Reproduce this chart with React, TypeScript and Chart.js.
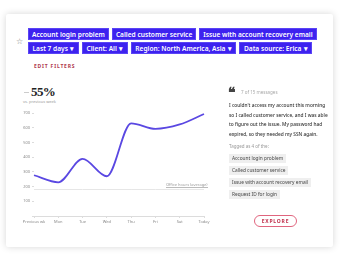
import React, { useEffect, useRef } from "react";
import { Chart, registerables } from "chart.js";

Chart.register(...registerables);

const categories = ["Previous wk", "Mon", "Tue", "Wed", "Thu", "Fri", "Sat", "Today"];
const messageValues = [277, 229, 388, 270, 630, 592, 622, 693];
const averageValues = [180, 180, 180, 180, 180, 180, 180, 180];
const yTicks = [0, 100, 200, 300, 400, 500, 600, 700];

const filterChips = ["Account login problem", "Called customer service", "Issue with account recovery email"];
const dropdownChips = ["Last 7 days", "Client: All", "Region: North America, Asia", "Data source: Erica"];
const tagChips = ["Account login problem", "Called customer service", "Issue with account recovery email", "Request ID for login"];
const quoteLines = [
  "I couldn't access my account this morning",
  "so I called customer service, and I was able",
  "to figure out the issue. My password had",
  "expired, so they needed my SSN again.",
];

const chipStyle: React.CSSProperties = {
  background: "#3d22ef",
  color: "#fff",
  fontSize: 6.6,
  fontWeight: 600,
  lineHeight: "11px",
  height: 12,
  padding: "0 3px",
  marginRight: 3,
  whiteSpace: "nowrap",
  border: "1px solid #5a44f5",
  boxSizing: "border-box",
};

function LineChart() {
  const ref = useRef<HTMLCanvasElement | null>(null);
  useEffect(() => {
    if (!ref.current) return;
    const chart = new Chart(ref.current, {
      type: "line",
      data: {
        labels: categories,
        datasets: [
          {
            data: averageValues,
            borderColor: "#e6e6e6",
            borderWidth: 1,
            pointRadius: 0,
            tension: 0,
          },
          {
            data: messageValues,
            borderColor: "#5a48e2",
            borderWidth: 1.8,
            pointRadius: 0,
            cubicInterpolationMode: "monotone",
          },
        ],
      },
      options: {
        animation: false,
        responsive: false,
        maintainAspectRatio: false,
        layout: { padding: { top: 5, right: 8, left: 0, bottom: 0 } },
        plugins: { legend: { display: false }, tooltip: { enabled: false } },
        scales: {
          x: {
            grid: { display: true, drawOnChartArea: false, tickLength: 2, color: "#dcdcdc" },
            border: { color: "#dcdcdc" },
            ticks: { font: { size: 4, family: "Noto Sans" }, color: "#888", padding: 1, maxRotation: 0, autoSkip: false },
            afterFit: (s: any) => { s.height = 14; },
          },
          y: {
            min: 0,
            max: 700,
            afterBuildTicks: (s: any) => { s.ticks = yTicks.map((v) => ({ value: v })); },
            grid: { display: true, drawOnChartArea: false, tickLength: 2, color: "#dcdcdc" },
            border: { display: false },
            ticks: {
              font: { size: 4, family: "Noto Sans" },
              color: "#888",
              padding: 2,
              callback: (v: any) => (v === 0 ? "" : String(v)),
            },
            afterFit: (s: any) => { s.width = 24; },
          },
        },
      },
    });
    return () => chart.destroy();
  }, []);
  return (
    <canvas ref={ref} width={202} height={122} style={{ position: "absolute", left: 10, top: 108, width: 202, height: 122 }} />
  );
}

export default function App() {
  return (
    <div style={{ position: "fixed", left: 0, top: 0, width: 344, height: 256, background: "#fff", overflow: "hidden", fontFamily: "'Noto Sans', sans-serif" }}>
      <div style={{ position: "absolute", left: 6, top: 14, width: 327, height: 233, background: "#fff", boxShadow: "0 0 7px rgba(0,0,0,0.16)", borderRadius: 2 }} />
      <div style={{ position: "absolute", left: 16, top: 35, fontSize: 8, color: "#777" }}>☆</div>
      <div style={{ position: "absolute", left: 28, top: 28, display: "flex" }}>
        {filterChips.map((c) => (
          <div key={c} style={chipStyle}>{c}</div>
        ))}
      </div>
      <div style={{ position: "absolute", left: 28, top: 42, display: "flex" }}>
        {dropdownChips.map((c) => (
          <div key={c} style={{ ...chipStyle, padding: "0 3.5px" }}>{c}<span style={{ marginLeft: 2.5 }}>▾</span></div>
        ))}
      </div>
      <div style={{ position: "absolute", left: 34, top: 63, fontSize: 5, fontWeight: 700, letterSpacing: 0.8, color: "#b0394e" }}>EDIT FILTERS</div>
      <div style={{ position: "absolute", left: 24, top: 92, width: 5, height: 1, background: "#ccc" }} />
      <div style={{ position: "absolute", left: 31, top: 84, fontSize: 13, fontWeight: 700, fontFamily: "'Liberation Serif', serif", color: "#222", letterSpacing: -0.6 }}>55%</div>
      <div style={{ position: "absolute", left: 23, top: 99, fontSize: 4, color: "#999" }}>vs. previous week</div>
      <LineChart />
      <div style={{ position: "absolute", left: 166, top: 182, fontSize: 4, color: "#999", borderBottom: "1px solid #bbb" }}>Office hours (average)</div>

      <div style={{ position: "absolute", left: 228, top: 84, fontSize: 14, fontWeight: 700, color: "#444", fontFamily: "'DejaVu Serif', serif" }}>❝</div>
      <div style={{ position: "absolute", left: 241, top: 89, fontSize: 4.5, color: "#aaa" }}>7 of 15 messages</div>
      <div style={{ position: "absolute", left: 229, top: 101, fontSize: 4.8, lineHeight: "9.5px", color: "#333", fontWeight: 500 }}>
        {quoteLines.map((l) => (
          <div key={l} style={{ whiteSpace: "nowrap" }}>{l}</div>
        ))}
      </div>
      <div style={{ position: "absolute", left: 229, top: 143, fontSize: 4.5, color: "#999" }}>Tagged as 4 of the:</div>
      <div style={{ position: "absolute", left: 229, top: 154 }}>
        {tagChips.map((t) => (
          <div key={t} style={{ display: "table", background: "#efefef", color: "#444", fontSize: 4.8, height: 9, lineHeight: "9px", padding: "0 3px", marginBottom: 3, whiteSpace: "nowrap" }}>{t}</div>
        ))}
      </div>
      <div style={{ position: "absolute", left: 254, top: 215, width: 43, height: 12, boxSizing: "border-box", border: "1px solid #e0657e", borderRadius: 6, color: "#c0304c", fontSize: 5, fontWeight: 700, letterSpacing: 0.8, textAlign: "center", lineHeight: "10px" }}>EXPLORE</div>
    </div>
  );
}
